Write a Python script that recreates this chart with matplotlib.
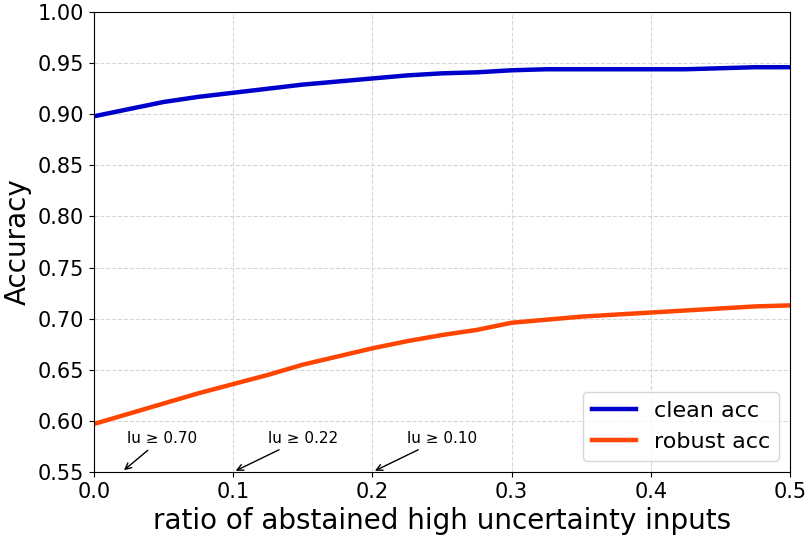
import numpy as np
import matplotlib.pyplot as plt

# abstain ratio sampled along the curves
ratio = [0.0, 0.025, 0.05, 0.075, 0.1, 0.125, 0.15, 0.175, 0.2, 0.225, 0.25,
         0.275, 0.3, 0.325, 0.35, 0.375, 0.4, 0.425, 0.45, 0.475, 0.5]
clean_acc = [0.898, 0.905, 0.912, 0.917, 0.921, 0.925, 0.929, 0.932, 0.935, 0.938, 0.940,
             0.941, 0.943, 0.944, 0.944, 0.944, 0.944, 0.944, 0.945, 0.946, 0.946]
robust_acc = [0.597, 0.607, 0.617, 0.627, 0.636, 0.645, 0.655, 0.663, 0.671, 0.678, 0.684,
              0.689, 0.696, 0.699, 0.702, 0.704, 0.706, 0.708, 0.710, 0.712, 0.713]

# uncertainty thresholds marked on the x axis
mark_x = [0.02, 0.1, 0.2]
mark_labels = ["lu \u2265 0.70", "lu \u2265 0.22", "lu \u2265 0.10"]

fig = plt.figure(figsize=(8.08, 5.39), dpi=100)
ax = fig.add_axes([0.1163, 0.1243, 0.8614, 0.8534])

ax.plot(ratio, clean_acc, color='#0000CD', lw=3.2, label='clean acc')
ax.plot(ratio, robust_acc, color='#FF4500', lw=3.2, label='robust acc')

for x, lab in zip(mark_x, mark_labels):
    ax.annotate(lab, xy=(x, 0.55), xytext=(x + 0.05 if x > 0.05 else 0.049, 0.583),
                ha='center', va='center', fontsize=11,
                arrowprops=dict(arrowstyle='->', color='black', lw=1))

ax.set_xlim(0, 0.5)
ax.set_ylim(0.55, 1.0)
ax.set_xticks([0.0, 0.1, 0.2, 0.3, 0.4, 0.5])
ax.set_yticks(np.arange(0.55, 1.001, 0.05))
ax.tick_params(labelsize=15)
ax.grid(True, ls='--', color='lightgray', alpha=0.9)
ax.set_xlabel('ratio of abstained high uncertainty inputs', fontsize=20)
ax.set_ylabel('Accuracy', fontsize=20)
ax.legend(loc='lower right', fontsize=16)

fig.savefig('out.png', dpi=100)
